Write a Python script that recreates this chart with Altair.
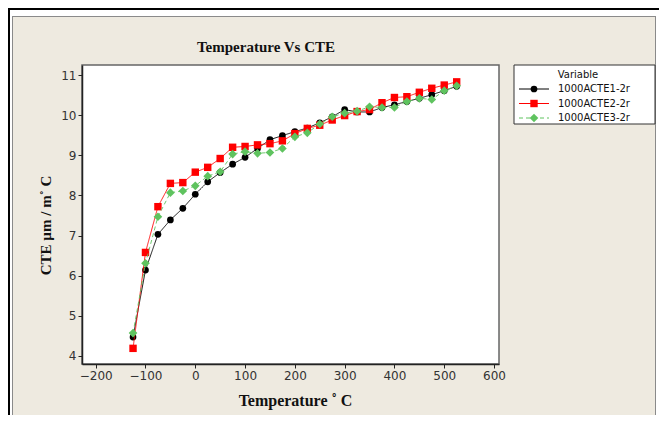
import altair as alt
import pandas as pd

temps = [-125, -100, -75, -50, -25, 0, 25, 50, 75, 100, 125, 150, 175, 200,
         225, 250, 275, 300, 325, 350, 375, 400, 425, 450, 475, 500, 525]
cte1 = [4.47, 6.14, 7.03, 7.39, 7.68, 8.03, 8.34, 8.57, 8.78, 8.95, 9.17, 9.39, 9.49, 9.59,
        9.68, 9.81, 9.96, 10.14, 10.08, 10.08, 10.19, 10.26, 10.34, 10.42, 10.51, 10.61, 10.72]
cte2 = [4.19, 6.58, 7.72, 8.30, 8.32, 8.58, 8.70, 8.92, 9.20, 9.22, 9.26, 9.29, 9.36, 9.54,
        9.67, 9.75, 9.88, 9.99, 10.09, 10.14, 10.31, 10.44, 10.46, 10.57, 10.67, 10.75, 10.83]
cte3 = [4.57, 6.31, 7.47, 8.07, 8.11, 8.24, 8.48, 8.59, 9.03, 9.09, 9.05, 9.07, 9.17, 9.46,
        9.56, 9.78, 9.96, 10.05, 10.10, 10.21, 10.19, 10.19, 10.34, 10.42, 10.39, 10.61, 10.73]
series_names = ["1000ACTE1-2r", "1000ACTE2-2r", "1000ACTE3-2r"]
series_vals = [cte1, cte2, cte3]
colors = ["#000000", "#FF0000", "#5FC35F"]
shapes = ["circle", "square", "diamond"]
sizes = [45, 55, 75]
dashes = [[1, 0], [1, 0], [4, 3]]
x_ticks = [-200, -100, 0, 100, 200, 300, 400, 500, 600]
y_ticks = [4, 5, 6, 7, 8, 9, 10, 11]

W, H = 417, 299
BEIGE = "#EEEAE0"

xs = alt.Scale(domain=[-227.5, 610], nice=False, zero=False)
ys = alt.Scale(domain=[3.80, 11.25], nice=False, zero=False)

one = alt.Data(values=[{"a": 1}])

def rect(x, x2, y, y2, fill, stroke=None, sw=1):
    kw = dict(fill=fill)
    if stroke:
        kw.update(stroke=stroke, strokeWidth=sw)
    return alt.Chart(one).mark_rect(**kw).encode(
        x=alt.value(x), x2=alt.value(x2), y=alt.value(y), y2=alt.value(y2))

layers = []
# decorations: white margin strips, outer frame, inner beige panel border
layers.append(rect(-74, 577, -57, -49, "white"))
layers.append(rect(-74, -70, -57, 350, "white"))
layers.append(rect(574, 577, -57, 350, "white"))
layers.append(rect(-74, -72, -57, 350, "black"))
layers.append(rect(-74, 577, -57, -55, "black"))
layers.append(rect(-70, -69, -49, 350, "#8a8a8a"))
layers.append(rect(-70, 574, -49, -48, "#8a8a8a"))
layers.append(rect(573, 574, -49, 350, "#8a8a8a"))

# data series
for name, vals, col, shp, sz, dsh in zip(series_names, series_vals, colors, shapes, sizes, dashes):
    df = pd.DataFrame({"temp": temps, "cte": vals, "series": name})
    base = alt.Chart(df)
    line = base.mark_line(color=col, strokeWidth=1, strokeDash=dsh, opacity=0.9).encode(
        x=alt.X("temp:Q", scale=xs,
                axis=alt.Axis(values=x_ticks, title="Temperature ˚ C", grid=False,
                              titleX=213, titleY=41, titleBaseline="alphabetic",
                              titleFontSize=16)),
        y=alt.Y("cte:Q", scale=ys,
                axis=alt.Axis(values=y_ticks, title="CTE µm / m˚ C", grid=False,
                              titleX=-29, titleY=160)),
    )
    pts = base.mark_point(shape=shp, filled=True, size=sz, color=col, opacity=1).encode(
        x=alt.X("temp:Q", scale=xs), y=alt.Y("cte:Q", scale=ys))
    layers += [line, pts]

# title
layers.append(alt.Chart(one).mark_text(
    text="Temperature Vs CTE", font="Liberation Serif", fontWeight="bold", fontSize=15,
    align="center", baseline="alphabetic", color="#111").encode(
    x=alt.value(184), y=alt.value(-13)))

# legend
LX, LY = 432, 0
layers.append(rect(LX, LX + 141, LY, LY + 59, "white", stroke="#333", sw=1))
layers.append(alt.Chart(one).mark_text(
    text="Variable", font="DejaVu Sans", fontSize=10, align="center", baseline="middle",
    color="#111").encode(x=alt.value(LX + 64), y=alt.value(LY + 10)))
for i, (name, col, shp, sz, dsh) in enumerate(zip(series_names, colors, shapes, sizes, dashes)):
    yy = LY + 24 + i * 14.5
    layers.append(alt.Chart(one).mark_rule(color=col, strokeWidth=1, strokeDash=dsh).encode(
        x=alt.value(LX + 5), x2=alt.value(LX + 35), y=alt.value(yy)))
    layers.append(alt.Chart(one).mark_point(shape=shp, filled=True, size=sz, color=col,
                                            opacity=1).encode(
        x=alt.value(LX + 20), y=alt.value(yy)))
    layers.append(alt.Chart(one).mark_text(
        text=name, font="DejaVu Sans", fontSize=10, align="left", baseline="middle",
        color="#111").encode(x=alt.value(LX + 44), y=alt.value(yy)))

chart = alt.layer(*layers).properties(
    width=W, height=H,
    autosize=alt.AutoSizeParams(type="none"),
    padding={"left": 74, "top": 57, "right": 160, "bottom": 51},
    background=BEIGE,
).configure_view(
    fill="white", stroke="#666666", strokeWidth=1.5
).configure_axis(
    domainColor="#222222", domainWidth=1.5, tickColor="#222222", tickSize=4,
    labelFont="DejaVu Sans", labelFontSize=12, labelColor="#333333", labelPadding=2,
    titleFont="Liberation Serif", titleFontSize=15, titleFontWeight="bold",
    titleColor="#111111",
)

chart.save("out.html", embed_options={"renderer": "svg", "actions": False})
